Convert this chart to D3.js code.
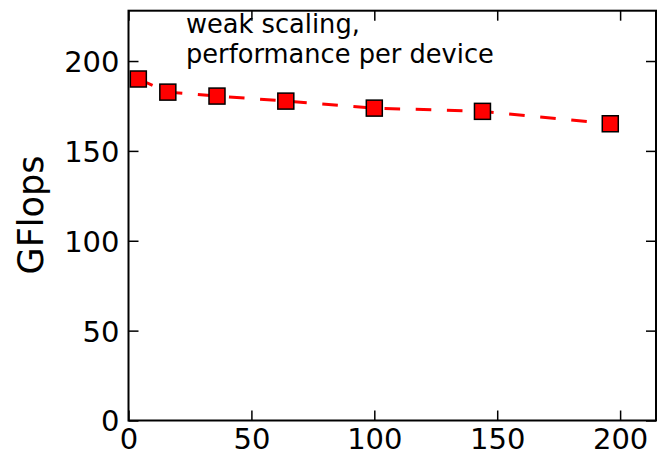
<!DOCTYPE html>
<html><head><meta charset="utf-8">
<script src="https://cdn.jsdelivr.net/npm/d3@7"></script>
<style>body{margin:0;background:#fff}svg{display:block}text{font-family:"DejaVu Sans",sans-serif}</style>
</head><body><svg id="c" width="658" height="459"></svg>
<script>
const devices = [4, 16, 36, 64, 100, 144, 196];
const gflops = [190, 182.7, 180.5, 177.7, 173.8, 172, 165.1];
const xTicks = [0, 50, 100, 150, 200];
const yTicks = [0, 50, 100, 150, 200];
const annotation = ["weak scaling,", "performance per device"];
const yLabel = "GFlops";

const svg = d3.select("#c");
const L = 128.5, R = 656, T = 10.7, B = 420.5;
const x = d3.scaleLinear().domain([0, 214.6]).range([L, R]);
const y = d3.scaleLinear().domain([0, 228]).range([B, T]);

const tickLen = 10;
const fs = 29;
const g = svg.append("g");
g.append("g").attr("transform", `translate(0,${B})`)
  .call(d3.axisBottom(x).tickValues(xTicks).tickSize(-tickLen).tickPadding(10).tickFormat(d3.format("d")))
  .call(a => { a.select(".domain").remove(); a.selectAll("text").attr("font-size", fs).attr("dy", "0.71em").attr("y", 8); });
g.append("g").attr("transform", `translate(0,${T})`)
  .call(d3.axisTop(x).tickValues(xTicks).tickSize(-tickLen).tickFormat(""))
  .call(a => a.select(".domain").remove());
g.append("g").attr("transform", `translate(${L},0)`)
  .call(d3.axisLeft(y).tickValues(yTicks).tickSize(-tickLen).tickPadding(9).tickFormat(d3.format("d")))
  .call(a => { a.select(".domain").remove(); a.selectAll("text").attr("font-size", fs).attr("x", -9).attr("dy", "0.36em"); });
g.append("g").attr("transform", `translate(${R},0)`)
  .call(d3.axisRight(y).tickValues(yTicks).tickSize(-tickLen).tickFormat(""))
  .call(a => a.select(".domain").remove());
g.selectAll(".tick line").attr("stroke", "#000").attr("stroke-width", 1.5);
g.selectAll(".tick text").attr("fill", "#000").attr("font-family", "DejaVu Sans");

svg.append("rect").attr("x", L).attr("y", T).attr("width", R - L).attr("height", B - T)
  .attr("fill", "none").attr("stroke", "#000").attr("stroke-width", 2);

const line = d3.line().x((d, i) => x(devices[i])).y(d => y(d));
svg.append("path").datum(gflops).attr("d", line)
  .attr("fill", "none").attr("stroke", "#ff0000").attr("stroke-width", 3)
  .attr("stroke-dasharray", "15.6,15.6");

const ms = 16;
svg.selectAll("rect.m").data(gflops).enter().append("rect").attr("class", "m")
  .attr("x", (d, i) => x(devices[i]) - ms / 2).attr("y", d => y(d) - ms / 2)
  .attr("width", ms).attr("height", ms)
  .attr("fill", "#ff0000").attr("stroke", "#000").attr("stroke-width", 1.5);

svg.append("text").attr("x", 186).attr("y", 33).attr("font-size", 25.7).attr("fill", "#000")
  .selectAll("tspan").data(annotation).enter().append("tspan")
  .attr("x", 186).attr("dy", (d, i) => i === 0 ? 0 : 30).text(d => d);

svg.append("text").attr("transform", `translate(43,${215}) rotate(-90)`)
  .attr("text-anchor", "middle").attr("font-size", 35).attr("fill", "#000").text(yLabel);
</script></body></html>
